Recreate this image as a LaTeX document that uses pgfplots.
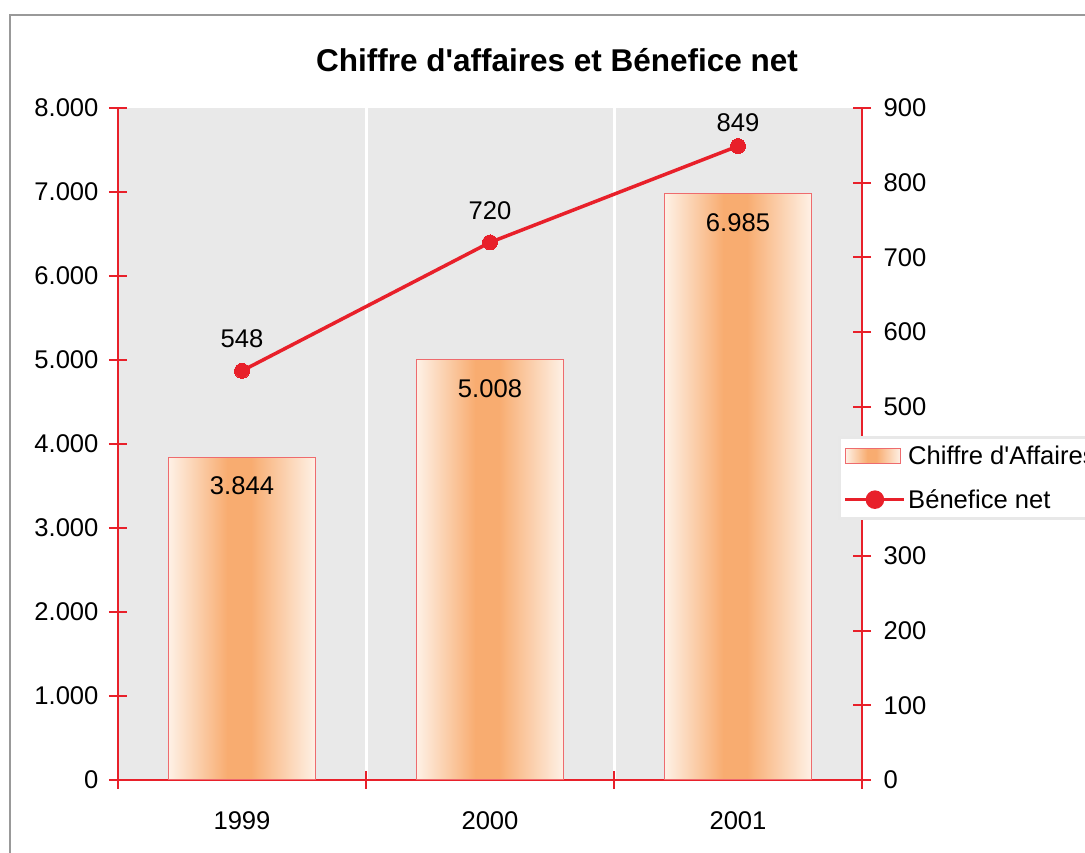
\documentclass[border=0pt]{standalone}
\usepackage{pgfplots}
\pgfplotsset{compat=1.18}
\usepackage{fontspec}
\setmainfont{Liberation Sans}[Ligatures=TeXOff]
\definecolor{plotbg}{HTML}{E9E9E9}
\definecolor{axred}{HTML}{E8202A}
\definecolor{barorange}{HTML}{F8AC70}
\definecolor{barlight}{HTML}{FEF1E6}
\definecolor{barborder}{HTML}{EE6B6E}
\definecolor{framegray}{HTML}{999999}
\pgfdeclarehorizontalshading{barshade}{100bp}{color(0bp)=(barlight); color(25bp)=(barlight); color(45bp)=(barorange); color(53bp)=(barorange); color(75bp)=(barlight); color(100bp)=(barlight)}
\newcommand{\tfont}{\fontsize{25.6}{30}\selectfont}
\pgfplotsset{
  barstyle/.style={ybar, bar width=147pt, draw=barborder, line width=1pt, shade, shading=barshade,
    nodes near coords,
    every node near coord/.append style={anchor=center, yshift=-29pt, font=\tfont, text=black}},
}
\begin{document}
\begin{tikzpicture}[x=1pt,y=1pt,font=\tfont]
\useasboundingbox (0,0) rectangle (1085,852);
\clip (0,0) rectangle (1085,852);
\draw[framegray, line width=2pt] (10,-5) -- (10,837) -- (1090,837);
\node[font=\bfseries\fontsize{31.5}{36}\selectfont] at (557,792) {Chiffre d'affaires et Bénefice net};

\begin{axis}[
  at={(118pt,72pt)}, anchor=south west,
  scale only axis, width=744pt, height=672pt,
  xmin=-0.5, xmax=2.5, ymin=0, ymax=8000,
  axis y line*=left, axis x line*=bottom,
  axis line style={axred, line width=2pt},
  axis background/.style={fill=plotbg},
  ytick={0,1000,...,8000},
  xtick={0,1,2}, xticklabels={1999,2000,2001},
  minor xtick={-0.5,0.5,1.5,2.5},
  major x tick style={draw=none},
  tick align=center,
  major tick length=18pt, minor tick length=18pt,
  every tick/.style={axred, line width=2pt},
  minor x tick style={axred, line width=2pt},
  xminorgrids=true,
  minor x grid style={white, line width=3pt},
  scaled ticks=false,
  /pgf/number format/.cd, 1000 sep={.}, assume math mode=true, /pgfplots/.cd,
  tick label style={font=\tfont},
  xticklabel style={yshift=-19pt},
  yticklabel style={xshift=-7pt},
  clip=false,
]
\addplot[barstyle] coordinates {(0,3844)};
\addplot[barstyle] coordinates {(1,5008)};
\addplot[barstyle] coordinates {(2,6985)};
\end{axis}

\begin{axis}[
  at={(118pt,72pt)}, anchor=south west,
  scale only axis, width=744pt, height=672pt,
  xmin=-0.5, xmax=2.5, ymin=0, ymax=900,
  axis y line*=right, axis x line=none,
  axis line style={axred, line width=2pt},
  ytick={0,100,...,900},
  tick align=center,
  major tick length=18pt,
  every tick/.style={axred, line width=2pt},
  /pgf/number format/.cd, assume math mode=true, /pgfplots/.cd,
  tick label style={font=\tfont},
  yticklabel style={xshift=9pt},
  clip=false,
  legend style={at={(axis description cs:0.968,0.512)}, anchor=north west,
    fill=white, draw=gray!18, line width=3pt, font=\tfont,
    inner xsep=4pt, inner ysep=7pt, row sep=19pt,
    nodes={inner sep=2pt, text=black}},
  legend cell align=left,
]
\addlegendimage{legend image code/.code={\draw[shade, shading=barshade, draw=barborder, line width=1pt] (0pt,-7.5pt) rectangle (55pt,7.5pt);}}
\addlegendentry{Chiffre d'Affaires}
\addplot[axred, line width=3.5pt, mark=*, mark size=7.5pt, mark options={fill=axred, draw=axred, line width=0pt},
  legend image code/.code={\draw[axred, line width=3.5pt] (0pt,0pt) -- (59pt,0pt); \fill[axred] (29.5pt,0pt) circle (7.5pt);}]
  coordinates {(0,548) (1,720) (2,849)};
\addlegendentry{Bénefice net}
\addplot[draw=none, mark=none, nodes near coords,
  every node near coord/.append style={anchor=center, yshift=32pt, font=\tfont, text=black}, forget plot]
  coordinates {(0,548) (1,720)};
\addplot[draw=none, mark=none, nodes near coords,
  every node near coord/.append style={anchor=center, yshift=23pt, font=\tfont, text=black}, forget plot]
  coordinates {(2,849)};
\end{axis}
\end{tikzpicture}
\end{document}
